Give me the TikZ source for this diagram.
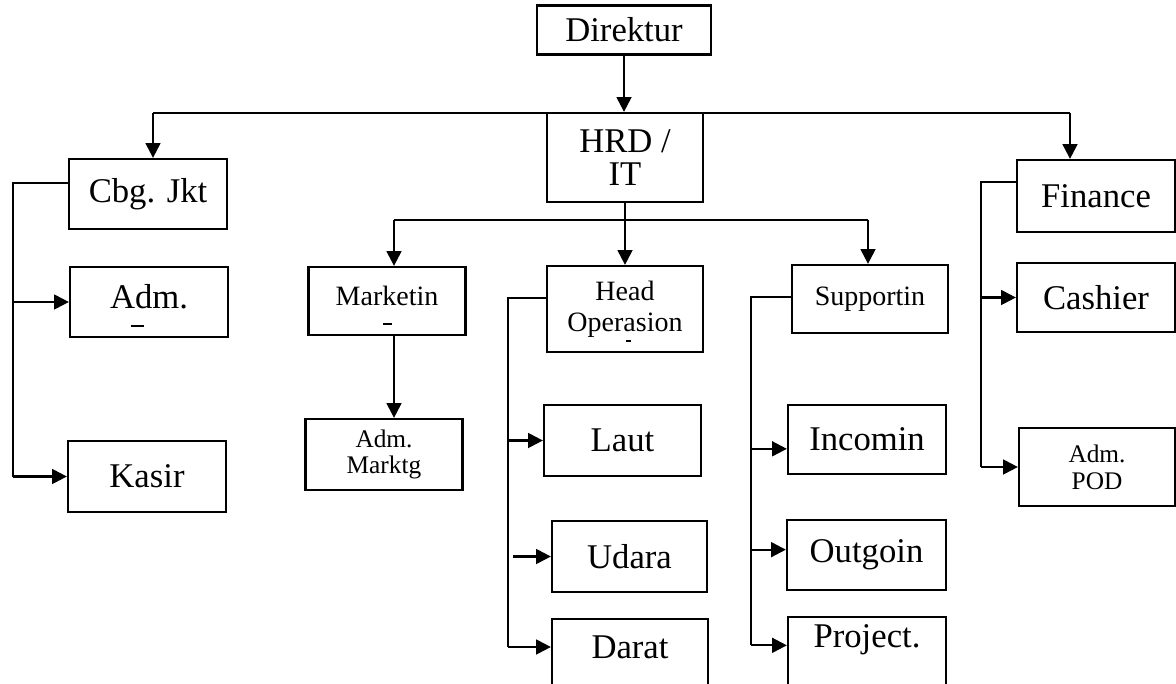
\documentclass[tikz,border=0pt]{standalone}
\usepackage{fontspec}
\setmainfont{Liberation Serif}
\usetikzlibrary{arrows.meta}
\begin{document}
\begin{tikzpicture}[x=0.75pt,y=-0.75pt,
  box/.style={draw,line width=1.7pt,inner sep=0pt,align=center},
  sz/.style 2 args={minimum width=#1*0.75pt,minimum height=#2*0.75pt},
  big/.style={font=\fontsize{26}{25}\selectfont},
  mid/.style={font=\fontsize{21}{23}\selectfont},
  small/.style={font=\fontsize{19}{20}\selectfont},
  wire/.style={line width=1.7pt},
  arr/.style={line width=1.7pt,-{Triangle[length=11pt,width=11pt]}}]
\useasboundingbox (0,0) rectangle (1176,684);

% nodes
\node[box,big,sz={174}{49}] (dir) at (624,30) {Direktur};
\node[box,big,sz={156}{89}] (hrd) at (625,157.5) {HRD /\\IT};
\node[box,big,sz={158}{70}] (cbg) at (148,194) {Cbg. Jkt};
\node[box,big,sz={158}{72}] (fin) at (1096,196) {Finance};
\node[box,big,sz={158}{70}] (adm) at (149,302) {};
\node[big] (admtext) at (149,297) {Adm.};
\node[box,big,sz={158}{71}] (kasir) at (147,476.5) {Kasir};
\node[box,sz={157}{68}] (mkt) at (387,301) {};
\node[mid] (mkttext) at (387,296) {Marketin};
\node[box,small,sz={157}{71}] (admm) at (384,454.5) {Adm.\\Marktg};
\node[box,mid,sz={156}{86}] (head) at (625,309) {Head\\Operasion};
\node[box,big,sz={157}{71}] (laut) at (622.5,440.5) {Laut};
\node[box,big,sz={155}{71}] (udara) at (629.5,556.5) {Udara};
\node[box,sz={156}{90}] (darat) at (630,664) {};
\node[big] (darattext) at (630,647) {Darat};
\node[box,mid,sz={156}{68}] (sup) at (870,299) {Supportin};
\node[box,big,sz={158}{69}] (inc) at (867,439.5) {Incomin};
\node[box,big,sz={159}{70}] (out) at (866.5,555) {Outgoin};
\node[box,sz={158}{90}] (proj) at (867,662) {};
\node[big] (projtext) at (867,640) {Project.};
\node[box,big,sz={158}{69}] (cash) at (1096,297.5) {Cashier};
\node[box,small,sz={156}{78}] (apod) at (1097,467) {Adm.\\POD};

% top level
\draw[arr] (dir.south) -- (dir.south |- hrd.north);
\coordinate (bl) at (153,113);
\coordinate (br) at (1070,113);
\draw[wire] (bl) -- (br);
\draw[arr] (bl) -- (bl |- cbg.north);
\draw[arr] (br) -- (br |- fin.north);

% HRD subtree
\coordinate (ml) at (394,220);
\coordinate (mr) at (868,220);
\draw[wire] (hrd.south) -- (hrd.south |- ml);
\draw[wire] (ml) -- (mr);
\draw[arr] (ml) -- (ml |- mkt.north);
\draw[arr] (hrd.south |- ml) -- (head.north);
\draw[arr] (mr) -- (mr |- sup.north);
\draw[arr] (ml |- mkt.south) -- (ml |- admm.north);

% Cbg. Jkt subtree
\coordinate (ct) at (13,183);
\draw[wire] (cbg.west |- ct) -- (ct) -- (ct |- kasir.west);
\draw[arr] (ct |- adm.west) -- (adm.west);
\draw[arr] (ct |- kasir.west) -- (kasir.west);

% Head Operasion subtree
\coordinate (ht) at (508,298);
\draw[wire] (head.west |- ht) -- (ht) -- (ht |- darattext);
\draw[arr] (ht |- laut.west) -- (laut.west);
\draw[arr] ([xshift=4pt]ht |- udara.west) -- (udara.west);
\draw[arr] (ht |- darattext) -- (darat.west |- darattext);

% Supportin subtree
\coordinate (st) at (751,297);
\draw[wire] (sup.west |- st) -- (st) -- ([yshift=-4pt]st |- projtext);
\draw[arr] ([yshift=-7pt]st |- inc.west) -- ([yshift=-7pt]inc.west);
\draw[arr] ([yshift=4pt]st |- out.west) -- ([yshift=4pt]out.west);
\draw[arr] ([yshift=-4pt]st |- projtext) -- ([yshift=-4pt]proj.west |- projtext);

% Finance subtree
\coordinate (ft) at (981,182);
\draw[wire] (fin.west |- ft) -- (ft) -- (ft |- apod.west);
\draw[arr] (ft |- cash.west) -- (cash.west);
\draw[arr] (ft |- apod.west) -- (apod.west);

% small marks
\draw[wire] (131,326) -- (144,326);
\draw[wire] (383,324) -- (392,324);
\draw[wire] (626,341) -- (631,341);
\end{tikzpicture}
\end{document}
